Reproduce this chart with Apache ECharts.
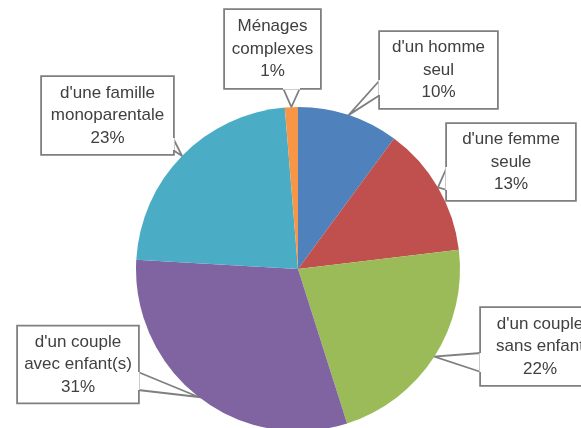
<!DOCTYPE html>
<html>
<head>
<meta charset="utf-8">
<script src="https://cdn.jsdelivr.net/npm/echarts@6/dist/echarts.min.js"></script>
<style>
html,body{margin:0;padding:0;background:#fff;}
#chart{width:581px;height:428px;}
</style>
</head>
<body>
<div id="chart"></div>
<script>
// ---- data ----
const categories = ["d'un homme seul", "d'une femme seule", "d'un couple sans enfant", "d'un couple avec enfant(s)", "d'une famille monoparentale", "Ménages complexes"];
const labelLinesText = [["d'un homme", "seul"], ["d'une femme", "seule"], ["d'un couple", "sans enfant"], ["d'un couple", "avec enfant(s)"], ["d'une famille", "monoparentale"], ["Ménages", "complexes"]];
const values = [10.1, 13.0, 22.0, 30.8, 22.8, 1.3];
const colors = ['#4F81BD', '#C0504D', '#9BBB59', '#8064A2', '#4BACC6', '#F79646'];

// ---- callout layout (box centre, size, wedge base points) ----
const boxes = [
  {cx: 438.5, cy: 70,    w: 117, h: 76, base: [[380, 80], [380, 95]]},
  {cx: 511,   cy: 162,   w: 128, h: 76, base: [[447, 167], [447, 190]]},
  {cx: 540,   cy: 346.5, w: 118, h: 77, base: [[481, 353], [481, 372]]},
  {cx: 78,    cy: 364.5, w: 120, h: 76, base: [[138, 372], [138, 390]]},
  {cx: 107.5, cy: 115.5, w: 131, h: 77, base: [[173, 138], [173, 150]]},
  {cx: 272.5, cy: 49,    w: 95,  h: 78, base: [[283, 88], [300, 88]]}
];

const LH = 22.5;
const chart = echarts.init(document.getElementById('chart'), null, {renderer: 'canvas'});

const data = categories.map((name, i) => ({
  name: name,
  value: values[i],
  itemStyle: {color: colors[i]},
  label: {
    width: boxes[i].w,
    padding: [(boxes[i].h - 3 * LH) / 2, 0, (boxes[i].h - 3 * LH) / 2, 0]
  }
}));

const gaps = boxes.map(b => ({
  type: 'line',
  z: 100,
  shape: {x1: b.base[0][0], y1: b.base[0][1], x2: b.base[1][0], y2: b.base[1][1]},
  style: {stroke: '#ffffff', lineWidth: 3}
}));

chart.setOption({
  animation: false,
  backgroundColor: '#ffffff',
  graphic: gaps,
  series: [{
    type: 'pie',
    center: [298, 269],
    radius: 162,
    startAngle: 90,
    clockwise: true,
    avoidLabelOverlap: false,
    data: data,
    itemStyle: {borderWidth: 0},
    label: {
      show: true,
      position: 'outside',
      formatter: p => labelLinesText[p.dataIndex].join('\n') + '\n' + Math.round(p.value) + '%',
      color: '#404040',
      fontFamily: 'Liberation Sans',
      fontSize: 17,
      lineHeight: LH,
      align: 'center',
      backgroundColor: '#ffffff',
      borderColor: '#7f7f7f',
      borderWidth: 1.8
    },
    labelLine: {
      show: true,
      length: 10,
      length2: 10,
      lineStyle: {color: '#7f7f7f', width: 1.8}
    },
    labelLayout: function (params) {
      const b = boxes[params.dataIndex];
      const tip = params.labelLinePoints ? params.labelLinePoints[0] : null;
      const res = {x: b.cx, y: b.cy, align: 'center', verticalAlign: 'middle'};
      if (tip) {
        res.labelLinePoints = [b.base[0], tip, b.base[1]];
      }
      return res;
    },
    emphasis: {disabled: true}
  }]
});
</script>
</body>
</html>
